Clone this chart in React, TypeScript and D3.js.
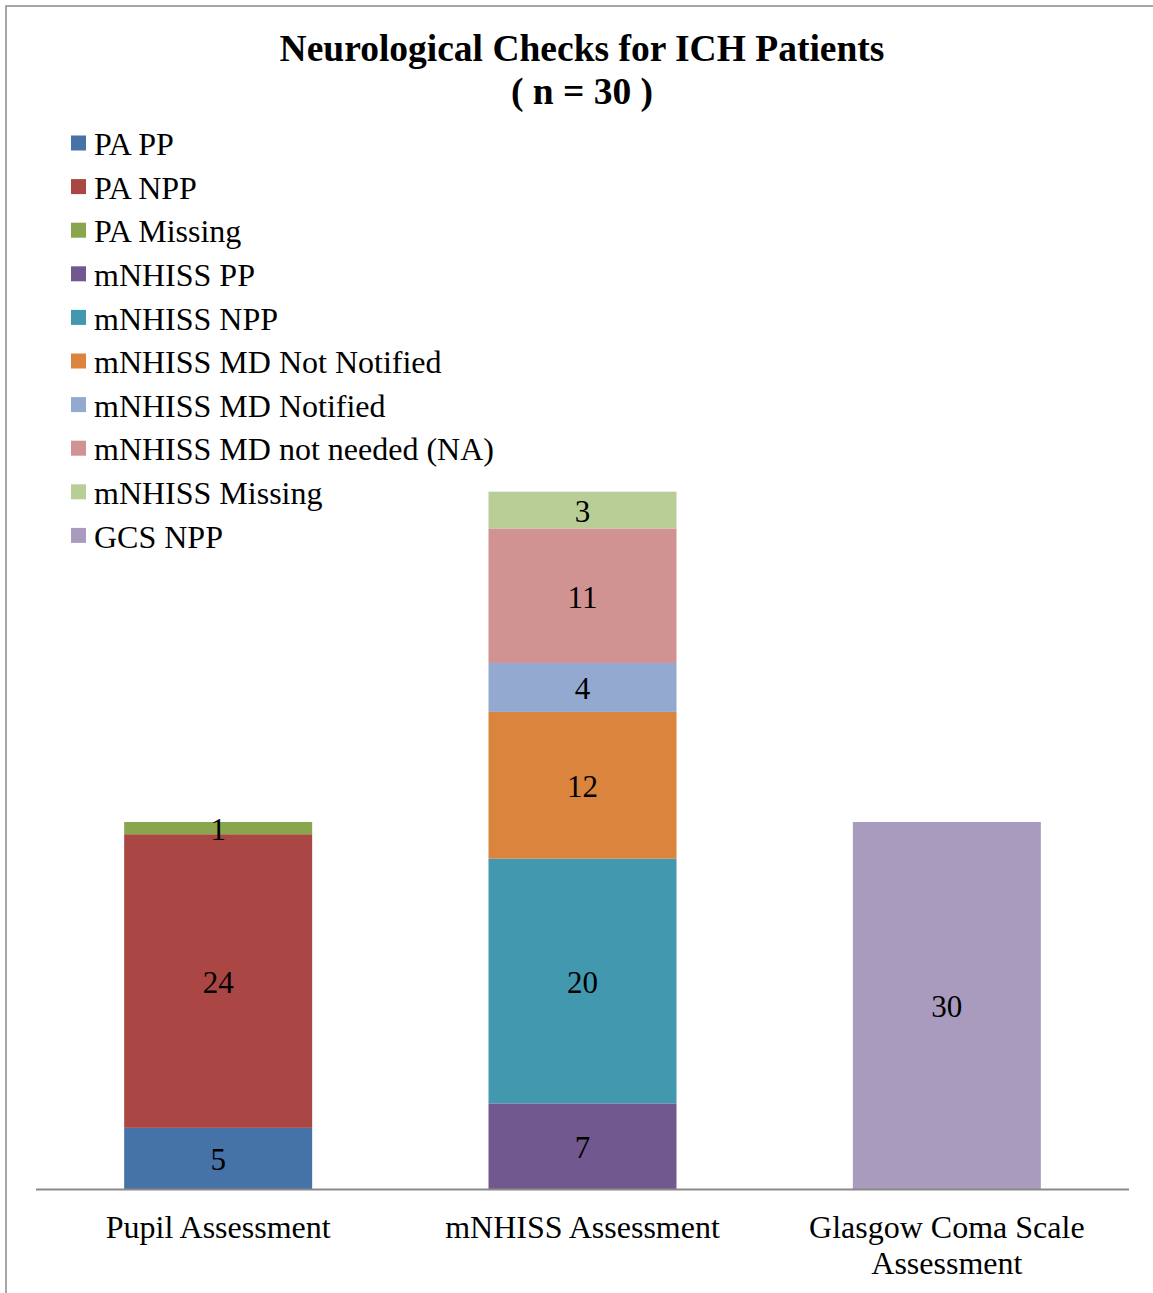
import React from "react";
import * as d3 from "d3";

const categories = ["Pupil Assessment", "mNHISS Assessment", "Glasgow Coma Scale Assessment"];
const categoryLines = [["Pupil Assessment"], ["mNHISS Assessment"], ["Glasgow Coma Scale", "Assessment"]];

const seriesNames = [
  "PA PP",
  "PA NPP",
  "PA Missing",
  "mNHISS PP",
  "mNHISS NPP",
  "mNHISS MD Not Notified",
  "mNHISS MD Notified",
  "mNHISS MD not needed (NA)",
  "mNHISS Missing",
  "GCS NPP",
];

// values per series for [Pupil, mNHISS, GCS]
const paPP = [5, 0, 0];
const paNPP = [24, 0, 0];
const paMissing = [1, 0, 0];
const mnPP = [0, 7, 0];
const mnNPP = [0, 20, 0];
const mnNotNotified = [0, 12, 0];
const mnNotified = [0, 4, 0];
const mnNotNeeded = [0, 11, 0];
const mnMissing = [0, 3, 0];
const gcsNPP = [0, 0, 30];

const seriesValues = [paPP, paNPP, paMissing, mnPP, mnNPP, mnNotNotified, mnNotified, mnNotNeeded, mnMissing, gcsNPP];

const colors = [
  "#4572A7",
  "#AA4643",
  "#89A54E",
  "#71588F",
  "#4198AF",
  "#DB843D",
  "#93A9CF",
  "#D19392",
  "#B9CD96",
  "#A99BBD",
];

const W = 1153;
const H = 1293;
const FONT = "'Liberation Serif', 'Times New Roman', serif";

export default function App() {
  const x = d3.scaleBand<string>().domain(categories).range([36, 1129]).paddingInner(0.484).paddingOuter(0.242);
  const y = d3.scaleLinear().domain([0, 60]).range([1189, 455]);

  const rows = categories.map((c, i) => {
    const r: any = { cat: c };
    seriesNames.forEach((s, j) => (r[s] = seriesValues[j][i]));
    return r;
  });
  const stacked = d3.stack().keys(seriesNames)(rows);

  return (
    <div style={{ position: "absolute", left: 0, top: 0 }}>
      <svg width={W} height={H} style={{ display: "block", background: "#fff" }} fontFamily={FONT}>
        <rect x={6} y={6} width={1300} height={1400} fill="none" stroke="#8a8a8a" strokeWidth={1.5} />
        <text x={582} y={61} textAnchor="middle" fontSize={37.5} fontWeight="bold">
          Neurological Checks for ICH Patients
        </text>
        <text x={582} y={104} textAnchor="middle" fontSize={37.5} fontWeight="bold">
          ( n = 30 )
        </text>
        {seriesNames.map((s, i) => (
          <g key={s} transform={`translate(0, ${143 + i * 43.6})`}>
            <rect x={71} y={-7.5} width={15} height={15} fill={colors[i]} />
            <text x={94} y={1} dy="0.35em" fontSize={32}>
              {s}
            </text>
          </g>
        ))}
        {stacked.map((ser, si) =>
          ser.map((d, ci) => {
            const v = d[1] - d[0];
            if (v <= 0) return null;
            const cat = categories[ci];
            const x0 = x(cat)!;
            const yTop = y(d[1]);
            const yBot = y(d[0]);
            return (
              <g key={`${si}-${ci}`}>
                <rect x={x0} y={yTop} width={x.bandwidth()} height={yBot - yTop} fill={colors[si]} />
              </g>
            );
          })
        )}
        {stacked.map((ser, si) =>
          ser.map((d, ci) => {
            const v = d[1] - d[0];
            if (v <= 0) return null;
            const cat = categories[ci];
            return (
              <text
                key={`t${si}-${ci}`}
                x={x(cat)! + x.bandwidth() / 2}
                y={(y(d[0]) + y(d[1])) / 2 + 1}
                dy="0.35em"
                textAnchor="middle"
                fontSize={31}
              >
                {v}
              </text>
            );
          })
        )}
        <line x1={36} x2={1129} y1={1189.5} y2={1189.5} stroke="#898989" strokeWidth={2} />
        {categories.map((c, i) => (
          <text key={c} textAnchor="middle" fontSize={32}>
            {categoryLines[i].map((ln, k) => (
              <tspan key={k} x={x(c)! + x.bandwidth() / 2} y={1238 + k * 36}>
                {ln}
              </tspan>
            ))}
          </text>
        ))}
      </svg>
    </div>
  );
}
